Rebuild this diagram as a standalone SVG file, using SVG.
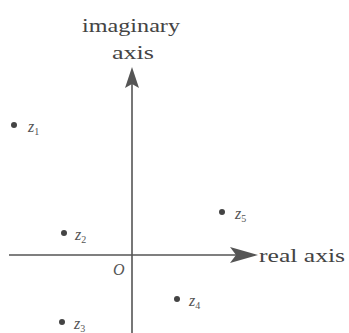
<svg xmlns="http://www.w3.org/2000/svg" width="349" height="333" viewBox="0 0 349 333">
<style>
.ax{stroke:#555;stroke-width:1.6;fill:none}
.t{font-family:"Liberation Serif",serif;fill:#444}
.z{font-family:"Liberation Serif",serif;font-style:italic;font-size:16px;fill:#555}
.s{font-size:10px;font-style:normal}
.d{fill:#444}
</style>
<g id="connectors">
<line class="ax" x1="132" y1="333" x2="132" y2="70"/>
<path d="M132,67 L139,88 L132,84 L125,88 Z" fill="#555"/>
<line class="ax" x1="9" y1="255" x2="255" y2="255"/>
<path d="M258,255 L230,247 L236,255 L230,263 Z" fill="#555"/>
</g>
<g id="imag-label">
<text class="t" x="82" y="32" font-size="19" textLength="98" lengthAdjust="spacingAndGlyphs">imaginary</text>
<text class="t" x="112" y="59" font-size="19" textLength="42" lengthAdjust="spacingAndGlyphs">axis</text>
</g>
<g id="real-label">
<text class="t" x="259" y="262" font-size="19" textLength="86" lengthAdjust="spacingAndGlyphs">real axis</text>
</g>
<g id="origin">
<text class="z" x="113" y="275" font-size="14">O</text>
</g>
<g id="z1"><circle class="d" cx="14" cy="125" r="3"/><text class="z" x="28" y="132">z<tspan class="s" dy="3">1</tspan></text></g>
<g id="z2"><circle class="d" cx="64" cy="233" r="3"/><text class="z" x="75" y="240">z<tspan class="s" dy="3">2</tspan></text></g>
<g id="z5"><circle class="d" cx="222" cy="212" r="3"/><text class="z" x="235" y="219">z<tspan class="s" dy="3">5</tspan></text></g>
<g id="z4"><circle class="d" cx="177" cy="299" r="3"/><text class="z" x="189" y="306">z<tspan class="s" dy="3">4</tspan></text></g>
<g id="z3"><circle class="d" cx="62" cy="322" r="3"/><text class="z" x="74" y="329">z<tspan class="s" dy="3">3</tspan></text></g>
</svg>
